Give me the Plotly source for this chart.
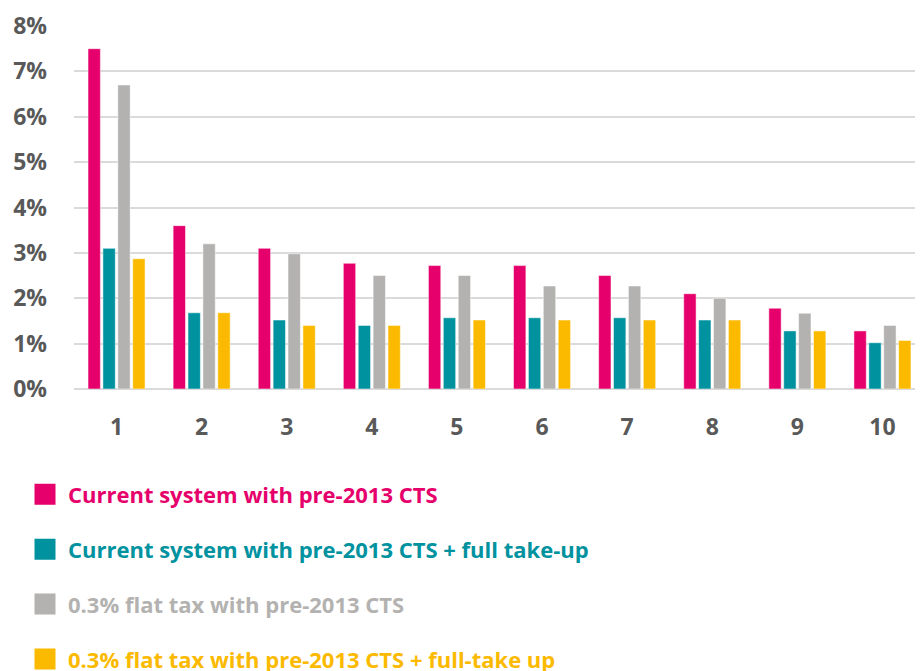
import plotly.graph_objects as go

deciles = ["1", "2", "3", "4", "5", "6", "7", "8", "9", "10"]
current_cts = [7.5, 3.6, 3.1, 2.77, 2.72, 2.72, 2.5, 2.1, 1.78, 1.28]
current_cts_full = [3.1, 1.68, 1.52, 1.4, 1.57, 1.57, 1.57, 1.52, 1.28, 1.02]
flat_cts = [6.7, 3.2, 2.98, 2.5, 2.5, 2.27, 2.27, 2.0, 1.67, 1.4]
flat_cts_full = [2.87, 1.68, 1.4, 1.4, 1.52, 1.52, 1.52, 1.52, 1.28, 1.07]

names = [
    "Current system with pre-2013 CTS",
    "Current system with pre-2013 CTS + full take-up",
    "0.3% flat tax with pre-2013 CTS",
    "0.3% flat tax with pre-2013 CTS + full-take up",
]
colors = ["#E6006B", "#00929F", "#B3B2B0", "#FBBA00"]
series = [current_cts, current_cts_full, flat_cts, flat_cts_full]

fig = go.Figure()
for i, (nm, col, vals) in enumerate(zip(names, colors, series)):
    fig.add_trace(go.Bar(
        x=deciles, y=[v / 100 for v in vals],
        name=nm,
        marker=dict(color=col, line=dict(color="rgba(255,255,255,0.5)", width=1)),
        legendgroup=f"g{i}", showlegend=False,
        hoverinfo="x+y",
    ))
    # legend entry (square swatch)
    fig.add_trace(go.Scatter(
        x=[None], y=[None], mode="markers",
        name=f"<span style='color:{col}'>{nm}</span>",
        marker=dict(symbol="square", size=16, color=col, line=dict(color=col, width=8)),
        legendgroup=f"g{i}", showlegend=True,
    ))

tick_font = dict(family="Open Sans", size=23, color="#595959", weight=700)

# figure coords (page adds an 8px body margin); figure taller than window so the
# bottom legend row never forces the plot area to shrink
plot_top, plot_bottom, plot_left, plot_right = 18, 381, 66, 917
W, H = 923, 690

fig.update_layout(
    width=W, height=H,
    margin=dict(l=plot_left, r=W - plot_right, t=plot_top, b=H - plot_bottom),
    paper_bgcolor="white", plot_bgcolor="white",
    barmode="group", bargap=0.30, bargroupgap=0.17,
    showlegend=True,
    legend=dict(
        x=(14 - plot_left) / (plot_right - plot_left),
        y=(plot_bottom - 465.5) / (plot_bottom - plot_top),
        xanchor="left", yanchor="top",
        orientation="v",
        itemwidth=36,
        font=dict(family="Open Sans", size=22, weight=700),
        tracegroupgap=23.3,
        bgcolor="rgba(0,0,0,0)",
    ),
    xaxis=dict(
        type="category", showgrid=False, zeroline=False, showline=False,
        ticks="", tickfont=tick_font, ticklabelstandoff=22, automargin=False,
    ),
    yaxis=dict(
        range=[0, 0.08], dtick=0.01, tickformat=".0%",
        showgrid=True, gridcolor="#DADADA", gridwidth=2,
        zeroline=True, zerolinecolor="#DADADA", zerolinewidth=2,
        showline=False, ticks="", tickfont=tick_font, ticklabelstandoff=26,
        automargin=False,
    ),
)

fig.write_html("out.html")
